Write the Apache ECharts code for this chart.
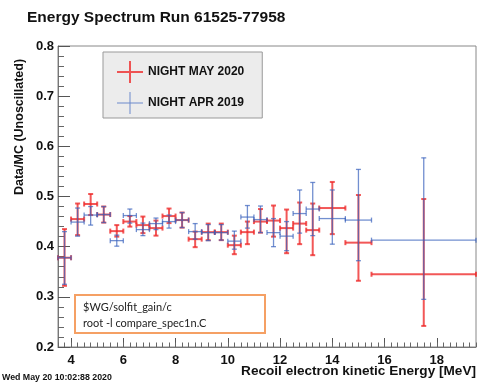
<!DOCTYPE html>
<html>
<head>
<meta charset="utf-8">
<script src="https://cdn.jsdelivr.net/npm/echarts@6/dist/echarts.min.js"></script>
<style>
html, body { margin: 0; padding: 0; background: #fff; }
#main { width: 478px; height: 383px; }
</style>
</head>
<body>
<div id="main"></div>
<script>
// energy bins [MeV]
var binLo = [3.5, 4.0, 4.5, 5.0, 5.5, 6.0, 6.5, 7.0, 7.5, 8.0, 8.5, 9.0, 9.5, 10.0, 10.5, 11.0, 11.5, 12.0, 12.5, 13.0, 13.5, 14.5, 15.5];
var binHi = [4.0, 4.5, 5.0, 5.5, 6.0, 6.5, 7.0, 7.5, 8.0, 8.5, 9.0, 9.5, 10.0, 10.5, 11.0, 11.5, 12.0, 12.5, 13.0, 13.5, 14.5, 15.5, 19.5];

// NIGHT MAY 2020 (ratio, lower, upper)
var mayVal = [0.378, 0.455, 0.485, 0.464, 0.431, 0.450, 0.443, 0.437, 0.461, 0.453, 0.415, 0.429, 0.429, 0.403, 0.429, 0.450, 0.452, 0.437, 0.446, 0.433, 0.477, 0.408, 0.345];
var mayLo  = [0.322, 0.423, 0.463, 0.448, 0.420, 0.440, 0.427, 0.422, 0.447, 0.438, 0.399, 0.413, 0.413, 0.385, 0.405, 0.428, 0.420, 0.387, 0.405, 0.383, 0.425, 0.332, 0.242];
var mayHi  = [0.435, 0.486, 0.505, 0.480, 0.443, 0.461, 0.460, 0.452, 0.476, 0.468, 0.430, 0.446, 0.446, 0.422, 0.450, 0.475, 0.482, 0.474, 0.488, 0.486, 0.529, 0.503, 0.495];

// NIGHT APR 2019
var aprVal = [0.378, 0.449, 0.463, 0.464, 0.412, 0.462, 0.434, 0.446, 0.450, 0.453, 0.430, 0.428, 0.428, 0.411, 0.459, 0.454, 0.428, 0.421, 0.466, 0.475, 0.456, 0.453, 0.413];
var aprLo  = [0.325, 0.421, 0.443, 0.448, 0.401, 0.447, 0.422, 0.434, 0.437, 0.438, 0.415, 0.412, 0.413, 0.395, 0.437, 0.428, 0.400, 0.392, 0.427, 0.422, 0.405, 0.372, 0.295];
var aprHi  = [0.430, 0.477, 0.480, 0.480, 0.423, 0.475, 0.447, 0.457, 0.463, 0.468, 0.446, 0.444, 0.444, 0.431, 0.482, 0.481, 0.456, 0.450, 0.513, 0.528, 0.513, 0.554, 0.577];

var xTickLabels = [4, 6, 8, 10, 12, 14, 16, 18];
var xMinorStep = 0.25;

var RED = 'rgba(238,40,40,0.78)';
var BLUE = 'rgba(60,100,190,0.72)';

function rows(val, lo, hi) {
  var out = [];
  for (var i = 0; i < val.length; i++) {
    out.push([binLo[i], binHi[i], val[i], lo[i], hi[i]]);
  }
  return out;
}

// ROOT-style error cross with end caps
function errCross(color, width, cap) {
  return function (params, api) {
    var xc = (api.value(0) + api.value(1)) / 2;
    var a = api.coord([api.value(0), api.value(2)]);
    var b = api.coord([api.value(1), api.value(2)]);
    var t = api.coord([xc, api.value(4)]);
    var d = api.coord([xc, api.value(3)]);
    var st = { stroke: color, lineWidth: width };
    function ln(x1, y1, x2, y2) {
      return { type: 'line', shape: { x1: x1, y1: y1, x2: x2, y2: y2 }, style: st };
    }
    return {
      type: 'group',
      children: [
        ln(a[0], a[1], b[0], b[1]),
        ln(t[0], t[1], d[0], d[1]),
        ln(a[0], a[1] - cap, a[0], a[1] + cap),
        ln(b[0], b[1] - cap, b[0], b[1] + cap),
        ln(t[0] - cap, t[1], t[0] + cap, t[1]),
        ln(d[0] - cap, d[1], d[0] + cap, d[1])
      ]
    };
  };
}

var minorTicks = [];
for (var v = 3.5; v <= 19.5 + 1e-9; v += xMinorStep) minorTicks.push(+v.toFixed(2));

var chart = echarts.init(document.getElementById('main'), null, { renderer: 'canvas' });

var option = {
  animation: false,
  backgroundColor: '#fff',
  textStyle: { fontFamily: 'Liberation Sans' },
  grid: {
    left: 58, right: 2, top: 46, bottom: 36,
    show: true, borderColor: '#888', borderWidth: 1, backgroundColor: 'transparent'
  },
  legend: {
    orient: 'vertical',
    left: 103, top: 52,
    backgroundColor: '#ececec',
    borderColor: '#999', borderWidth: 1, borderRadius: 0,
    padding: [9, 18, 4, 14],
    itemWidth: 26, itemHeight: 22, itemGap: 9,
    textStyle: { fontFamily: 'Liberation Sans', fontWeight: 'bold', fontSize: 12, color: '#111' },
    data: [
      { name: 'NIGHT MAY 2020', icon: 'path://M0,10L26,10L26,12L0,12ZM12,0L14,0L14,22L12,22Z' },
      { name: 'NIGHT APR 2019', icon: 'path://M0,10.5L26,10.5L26,11.5L0,11.5ZM12.5,0L13.5,0L13.5,22L12.5,22Z' }
    ]
  },
  xAxis: [{
    type: 'value', min: 3.5, max: 19.5,
    axisLine: { lineStyle: { color: '#777' } },
    axisTick: { inside: true, length: 9, customValues: xTickLabels, lineStyle: { color: '#555' } },
    axisLabel: {
      customValues: xTickLabels, margin: 7,
      fontFamily: 'Liberation Sans', fontWeight: 'bold', fontSize: 13, color: '#111'
    },
    splitLine: { show: false }
  }, {
    type: 'value', min: 3.5, max: 19.5, position: 'bottom',
    axisLine: { show: false },
    axisTick: { inside: true, length: 4.5, customValues: minorTicks, lineStyle: { color: '#666' } },
    axisLabel: { show: false },
    splitLine: { show: false }
  }],
  yAxis: {
    type: 'value', min: 0.2, max: 0.8, interval: 0.1,
    axisLine: { show: true, lineStyle: { color: '#777' } },
    axisTick: { show: true, inside: true, length: 12, lineStyle: { color: '#555' } },
    minorTick: { show: true, splitNumber: 5, length: 6, lineStyle: { color: '#666' } },
    axisLabel: {
      margin: 4, formatter: function (v) { return v.toFixed(1); },
      fontFamily: 'Liberation Sans', fontWeight: 'bold', fontSize: 13, color: '#111'
    },
    splitLine: { show: false }
  },
  graphic: [
    {
      type: 'text', left: 27, top: 10,
      style: { text: 'Energy Spectrum Run 61525-77958', font: 'bold 15.5px "Liberation Sans"', fill: '#111' }
    },
    {
      type: 'text', x: 20, y: 127, rotation: Math.PI / 2,
      style: { text: 'Data/MC (Unoscillated)', font: 'bold 12.5px "Liberation Sans"', fill: '#111', align: 'center', verticalAlign: 'middle' }
    },
    {
      type: 'text', x: 476, y: 371,
      style: { text: 'Recoil electron kinetic Energy [MeV]', font: 'bold 13.6px "Liberation Sans"', fill: '#111', align: 'right', verticalAlign: 'middle' }
    },
    {
      type: 'text', x: 2, y: 378,
      style: { text: 'Wed May 20 10:02:88 2020', font: 'bold 8.8px "Liberation Sans"', fill: '#111', verticalAlign: 'middle' }
    },
    {
      type: 'rect', shape: { x: 75, y: 295, width: 190, height: 38 },
      style: { fill: '#fff', stroke: '#f5a064', lineWidth: 2 }
    },
    {
      type: 'text', x: 83, y: 307.5,
      style: { text: '$WG/solfit_gain/c', font: '11px Lato', fill: '#222', verticalAlign: 'middle' }
    },
    {
      type: 'text', x: 83, y: 323.5,
      style: { text: 'root -l compare_spec1n.C', font: '11px Lato', fill: '#222', verticalAlign: 'middle' }
    }
  ],
  series: [
    {
      name: 'NIGHT MAY 2020', type: 'custom',
      itemStyle: { color: RED },
      encode: { x: [0, 1], y: [2, 3, 4] },
      renderItem: errCross(RED, 2, 2.5),
      data: rows(mayVal, mayLo, mayHi),
      z: 2
    },
    {
      name: 'NIGHT APR 2019', type: 'custom',
      itemStyle: { color: BLUE },
      encode: { x: [0, 1], y: [2, 3, 4] },
      renderItem: errCross(BLUE, 1.3, 2.5),
      data: rows(aprVal, aprLo, aprHi),
      z: 3
    }
  ]
};

chart.setOption(option);
</script>
</body>
</html>
